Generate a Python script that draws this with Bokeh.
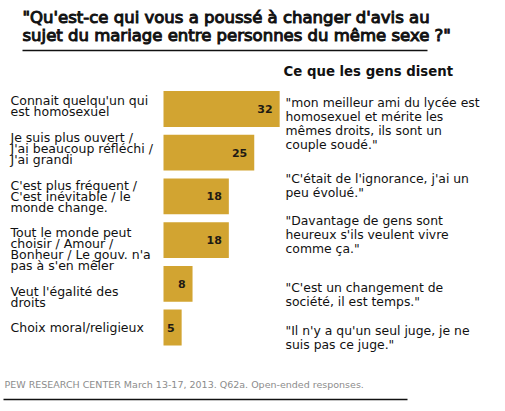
from bokeh.plotting import figure
from bokeh.models import Range1d, Label, BoxAnnotation, ColumnDataSource
from bokeh.core.properties import value
from bokeh.embed import file_html
from bokeh.resources import INLINE

# ---------------- data ----------------
categories = [
    "Connait quelqu'un qui\nest homosexuel",
    "Je suis plus ouvert /\nJ'ai beaucoup réfléchi /\nJ'ai grandi",
    "C'est plus fréquent /\nC'est inévitable / le\nmonde change.",
    "Tout le monde peut\nchoisir / Amour /\nBonheur / Le gouv. n'a\npas à s'en mêler",
    "Veut l'égalité des\ndroits",
    "Choix moral/religieux",
]
values = [32, 25, 18, 18, 8, 5]

title_lines = [
    "\"Qu'est-ce qui vous a poussé à changer d'avis au",
    "sujet du mariage entre personnes du même sexe ?\"",
]
quotes_header = "Ce que les gens disent"
quotes = [
    "\"mon meilleur ami du lycée est\nhomosexuel et mérite les\nmêmes droits, ils sont un\ncouple soudé.\"",
    "\"C'était de l'ignorance, j'ai un\npeu évolué.\"",
    "\"Davantage de gens sont\nheureux s'ils veulent vivre\ncomme ça.\"",
    "\"C'est un changement de\nsociété, il est temps.\"",
    "\"Il n'y a qu'un seul juge, je ne\nsuis pas ce juge.\"",
]
footer = "PEW RESEARCH CENTER March 13-17, 2013. Q62a. Open-ended responses."

# ---------------- layout (pixels in the figure) ----------------
W, H = 489, 401
X0_PX = 163.0        # pixel of value 0
PPU = 3.63           # pixels per unit
Y0_PX = 108.5        # pixel of first row centre
ROW_PX = 43.7        # pixels per row
BAR_H = 0.82
label_dy = [-3, -4, 0, 9, 13, 0]
LABEL_LINE = 11
quote_top = [102, 178, 220, 287, 330]
QUOTE_LINE = 14
title_mid = [17.3, 34.6]

FONT = "DejaVu Sans"
GOLD = "#D2A431"


def sx(px):
    return (px - X0_PX) / PPU


def sy(py):
    return (py - Y0_PX) / ROW_PX


p = figure(width=W, height=H, output_backend="svg", toolbar_location=None,
           x_range=Range1d(sx(0), sx(W)), y_range=Range1d(sy(H), sy(0)),
           x_axis_location=None, y_axis_location=None, min_border=0)
p.outline_line_color = None
p.grid.visible = False
p.background_fill_color = "white"
p.border_fill_color = "white"

idx = list(range(len(categories)))
src = ColumnDataSource(dict(y=idx, v=values, t=[str(v) for v in values]))
p.hbar(y="y", left=0, right="v", height=BAR_H, source=src,
       fill_color=GOLD, line_color=None)
p.text(x="v", y="y", text="t", source=src, x_offset=-7,
       text_align="right", text_baseline="middle",
       text_font=value(FONT), text_font_style="bold",
       text_font_size="11px", text_color="#1e1a14")

# category labels
for i, lab in enumerate(categories):
    lines = lab.split("\n")
    n = len(lines)
    for k, ln in enumerate(lines):
        py = Y0_PX + i * ROW_PX + label_dy[i] + (k - (n - 1) / 2) * LABEL_LINE
        p.add_layout(Label(x=sx(10), y=sy(py), text=ln, text_font=FONT,
                           text_font_size="12.5px", text_color="#111111",
                           text_align="left", text_baseline="middle"))

# title
for ln, ty in zip(title_lines, title_mid):
    p.add_layout(Label(x=sx(22), y=sy(ty), text=ln, text_font=FONT,
                       text_font_size="16.5px", text_color="#111111",
                       text_outline_color="#111111",
                       text_align="left", text_baseline="middle"))
p.add_layout(BoxAnnotation(left=sx(22), right=sx(427), top=sy(49.3), bottom=sy(50.8),
                           fill_color="#111111", fill_alpha=1, line_color=None))

# quotes
p.add_layout(Label(x=sx(283), y=sy(71), text=quotes_header, text_font=FONT,
                   text_font_size="13.3px", text_font_style="bold", text_color="#111111",
                   text_align="left", text_baseline="middle"))
for q, top in zip(quotes, quote_top):
    for k, ln in enumerate(q.split("\n")):
        p.add_layout(Label(x=sx(285), y=sy(top + k * QUOTE_LINE), text=ln,
                           text_font=FONT, text_font_size="12.4px", text_color="#111111",
                           text_align="left", text_baseline="middle"))

# footer
p.add_layout(Label(x=sx(4), y=sy(384), text=footer, text_font=FONT,
                   text_font_size="9.5px", text_color="#8c8c8c",
                   text_align="left", text_baseline="middle"))
p.add_layout(BoxAnnotation(left=sx(3), right=sx(407), top=sy(398.3), bottom=sy(399.8),
                           fill_color="#111111", fill_alpha=1, line_color=None))

open("out.html", "w").write(file_html(p, INLINE))
